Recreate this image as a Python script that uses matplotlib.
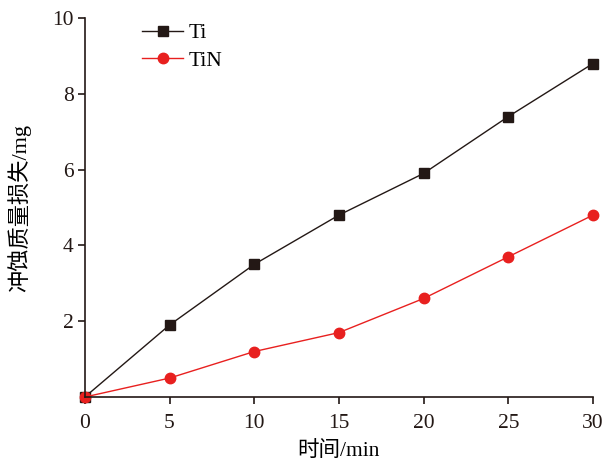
import matplotlib.pyplot as plt

plt.rcParams['font.family'] = ['Liberation Serif', 'Noto Sans CJK SC']
plt.rcParams['axes.unicode_minus'] = False

time_min = [0, 5, 10, 15, 20, 25, 30]
loss_ti = [0, 1.9, 3.5, 4.8, 5.9, 7.4, 8.8]
loss_tin = [0, 0.5, 1.2, 1.7, 2.6, 3.7, 4.8]

fig = plt.figure(figsize=(6.06, 4.63), dpi=100)
ax = fig.add_axes([0.140, 0.1425, 0.8385, 0.8185])

ax.plot(time_min, loss_ti, color='#231815', lw=1.0, marker='s', ms=6.5, label='Ti', clip_on=False)
ax.plot(time_min, loss_tin, color='#e8201f', lw=1.0, marker='o', ms=7.5, label='TiN', clip_on=False)

ax.set_xlim(0, 30)
ax.set_ylim(0, 10)
ax.set_xticks([0, 5, 10, 15, 20, 25, 30])
ax.set_yticks([2, 4, 6, 8, 10])
for s in ['top', 'right']:
    ax.spines[s].set_visible(False)
for s in ['left', 'bottom']:
    ax.spines[s].set_linewidth(1.2)
    ax.spines[s].set_color('#231815')
ax.tick_params(direction='out', length=5, width=1.2, labelsize=15.5, colors='#231815')
ax.tick_params(axis='x', pad=7)
ax.tick_params(axis='y', pad=3)
ax.set_xlabel('时间/min', fontsize=15.5, labelpad=6)
ax.set_ylabel('冲蚀质量损失/mg', fontsize=16, labelpad=15)

ax.legend(loc='upper left', bbox_to_anchor=(0.075, 1.038), frameon=False, fontsize=15.5,
          handlelength=1.9, handletextpad=0.25, labelspacing=0.35)

fig.savefig('out.png', dpi=100)
